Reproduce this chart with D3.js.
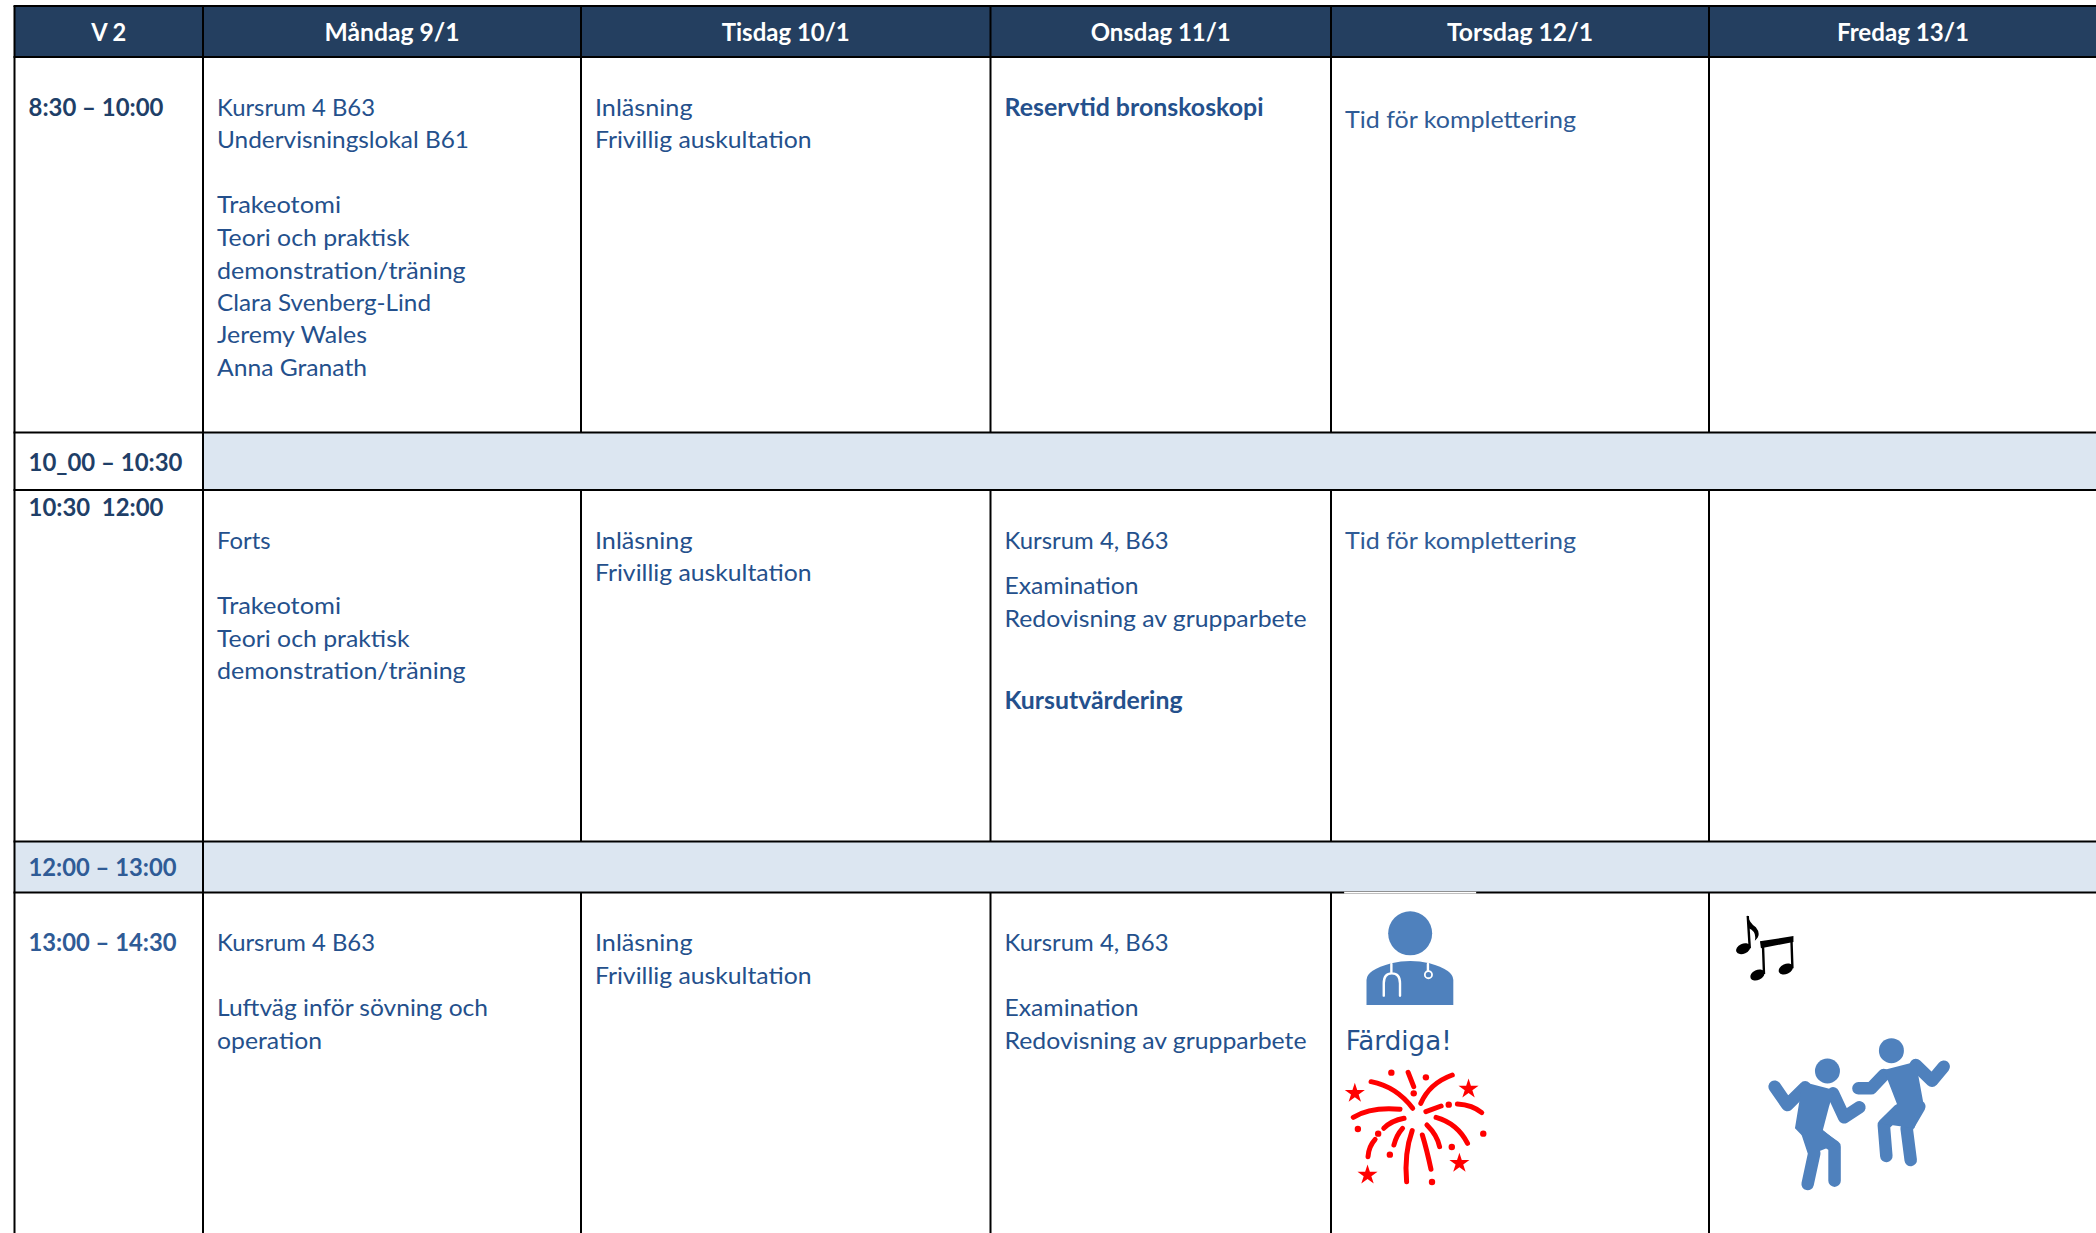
<!DOCTYPE html>
<html><head><meta charset="utf-8">
<script src="https://cdn.jsdelivr.net/npm/d3@7"></script>
<style>html,body{margin:0;padding:0;background:#fff;overflow:hidden}svg{display:block}text{font-family:Lato,Carlito,sans-serif}</style>
</head><body><svg id="c" width="2096" height="1233"></svg>
<script>
// ---- content ----
const headers = ["V 2","Måndag 9/1","Tisdag 10/1","Onsdag 11/1","Torsdag 12/1","Fredag 13/1"];
const timeLabels = ["8:30 – 10:00","10_00 – 10:30","10:30  12:00","12:00 – 13:00","13:00 – 14:30"];
const monMorning = ["Kursrum 4 B63","Undervisningslokal B61","Trakeotomi","Teori och praktisk","demonstration/träning","Clara Svenberg-Lind","Jeremy Wales","Anna Granath"];
const monMidday = ["Forts","Trakeotomi","Teori och praktisk","demonstration/träning"];
const monAfternoon = ["Kursrum 4 B63","Luftväg inför sövning och","operation"];
const tueLines = ["Inläsning","Frivillig auskultation"];
const wedMidday = ["Kursrum 4, B63","Examination","Redovisning av grupparbete"];
const wedAfternoon = ["Kursrum 4, B63","Examination","Redovisning av grupparbete"];

// ---- layout ----
const colX = [14.5,203,581,990.5,1331,1709,2096];
const rowY = [6,57,432.5,490,841.5,892.5,1240];
const ink="#24508c", inkDark="#1f3f68", inkBlue="#2f5b96";
// widths of the original (Calibri) strings, which the stand-in font is fitted to
const fit = new Map([
 ["V 2",35],["Måndag 9/1",135],["Tisdag 10/1",128],["Onsdag 11/1",140],["Torsdag 12/1",146],["Fredag 13/1",132],
 ["8:30 – 10:00",135],["10_00 – 10:30",154],["10:30  12:00",135],["12:00 – 13:00",148],["13:00 – 14:30",148],
 ["Kursrum 4 B63",158],["Undervisningslokal B61",252],["Trakeotomi",124],["Teori och praktisk",192.5],
 ["demonstration/träning",248.6],["Clara Svenberg-Lind",214],["Jeremy Wales",150],["Anna Granath",150],["Forts",53.5],
 ["Luftväg inför sövning och",271],["operation",105],["Inläsning",97.5],["Frivillig auskultation",216.5],
 ["Kursrum 4, B63",164],["Examination",134],["Redovisning av grupparbete",302],["Tid för komplettering",231],
 ["Kursutvärdering",178],["Reservtid bronskoskopi",259]
]);
const placed = [
 {c:1,y:[116,148,213,246,279,311,343,376],t:monMorning},
 {c:1,y:[549,614,647,679],t:monMidday},
 {c:1,y:[951,1016,1049],t:monAfternoon},
 {c:2,y:[116,148],t:tueLines},
 {c:2,y:[549,581],t:tueLines},
 {c:2,y:[951,984],t:tueLines},
 {c:3,y:[116],t:["Reservtid bronskoskopi"],b:1},
 {c:3,y:[549,594,626.5],t:wedMidday},
 {c:3,y:[709],t:["Kursutvärdering"],b:1},
 {c:3,y:[951,1016,1049],t:wedAfternoon},
 {c:4,y:[128],t:["Tid för komplettering"],f:inkBlue},
 {c:4,y:[549],t:["Tid för komplettering"],f:inkBlue},
];
const timeY = [116,471,516,876,951];
const timeFill = [inkDark,inkDark,inkDark,inkBlue,inkBlue];

const svg = d3.select("#c");
const table = svg.append("g");

table.append("rect").attr("x",colX[0]).attr("y",rowY[0]).attr("width",2096-colX[0]).attr("height",rowY[1]-rowY[0]).attr("fill","#243f60");
table.append("rect").attr("x",colX[1]).attr("y",rowY[2]).attr("width",2096-colX[1]).attr("height",rowY[3]-rowY[2]).attr("fill","#dce6f1");
table.append("rect").attr("x",colX[0]).attr("y",rowY[4]).attr("width",2096-colX[0]).attr("height",rowY[5]-rowY[4]).attr("fill","#dce6f1");

const hl = rowY.slice(0,-1);
table.selectAll("line.h").data(hl).join("line").attr("class","h")
  .attr("x1",colX[0]-1).attr("x2",2096).attr("y1",d=>d).attr("y2",d=>d).attr("stroke","#000").attr("stroke-width",2);
const segs = [];
colX.slice(0,-1).forEach((x,i)=>{
  if(i<2){ segs.push([x,rowY[0],rowY[6]]); }
  else { [[0,2],[3,4],[5,6]].forEach(([a,b])=>segs.push([x,rowY[a],rowY[b]])); }
});
table.selectAll("line.v").data(segs).join("line").attr("class","v")
  .attr("x1",d=>d[0]).attr("x2",d=>d[0]).attr("y1",d=>d[1]).attr("y2",d=>d[2]).attr("stroke","#000").attr("stroke-width",2);

const SZ=24;
function put(sel,bold){
  sel.attr("font-size",SZ).attr("font-weight",bold?700:400)
    .attr("textLength",d=>fit.get(d)).attr("lengthAdjust","spacingAndGlyphs");
}
const hdr = table.selectAll("text.hd").data(headers).join("text").attr("class","hd")
  .attr("y",41).attr("fill","#fff").attr("xml:space","preserve").text(d=>d);
put(hdr,true);
hdr.attr("x",(d,i)=>(colX[i]+colX[i+1])/2-fit.get(d)/2+(i==5?0.5:0));
const tl = table.selectAll("text.tm").data(timeLabels).join("text").attr("class","tm")
  .attr("x",28.5).attr("y",(d,i)=>timeY[i]).attr("fill",(d,i)=>timeFill[i]).attr("xml:space","preserve").text(d=>d);
put(tl,true);
placed.forEach(p=>{
  const s=table.append("g").selectAll("text").data(p.t).join("text")
    .attr("x",colX[p.c]+14).attr("y",(d,i)=>p.y[i]).attr("fill",p.f||ink).text(d=>d);
  put(s,!!p.b);
});

// ---- pictures (traced in crop space, mapped to the page by scales) ----
const X=d3.scaleLinear([0,1568],[1300,2096]), Y=d3.scaleLinear([0,1059],[880,1233]);
const sp=d=>d.replace(/(-?[\d.]+),(-?[\d.]+)/g,(m,a,b)=>X(+a)+","+Y(+b));
const art=svg.append("g");
art.append("rect").attr("x",X(87)).attr("y",rowY[5]-1).attr("width",X(347)-X(87)).attr("height",2).attr("fill","#fff");
art.append("line").attr("x1",X(87)).attr("x2",X(347)).attr("y1",rowY[5]-1).attr("y2",rowY[5]-1).attr("stroke","#777").attr("stroke-width",.6);
const ell=(g,cx,cy,rx,ry,f)=>g.append("ellipse").attr("cx",X(cx)).attr("cy",Y(cy)).attr("rx",rx).attr("ry",ry).attr("fill",f);
const blue="#4f81bd";
const doc=art.append("g");
ell(doc,217,160,22,22,blue);
doc.append("path").attr("fill",blue).attr("d",sp("M131,375 L131,300 Q131,270 180,250 Q217,236 255,250 Q302,270 302,300 L302,375 Z"));
doc.append("path").attr("fill","none").attr("stroke","#fff").attr("stroke-width",2.4).attr("stroke-linecap","round")
  .attr("d",sp("M180,252 L180,280 M165,347 L165,310 Q165,280 181,280 Q197,280 197,310 L197,347 M252,252 L252,272"));
doc.append("circle").attr("cx",X(253)).attr("cy",Y(284)).attr("r",3.6).attr("fill",blue).attr("stroke","#fff").attr("stroke-width",1.8);
art.append("text").attr("x",X(90)).attr("y",1050).attr("font-size",27).attr("fill","#24508c")
  .style("font-family","'DejaVu Sans'").attr("textLength",106).attr("lengthAdjust","spacingAndGlyphs").text("Färdiga!");
const fw=art.append("g").attr("fill","none").attr("stroke","#f00").attr("stroke-linecap","round");
const arcs=["M140,605 Q190,620 222,685","M300,585 Q255,610 238,670","M213,577 L224,620","M105,712 Q140,680 197,688",
 "M358,698 Q340,675 310,672","M248,695 L278,678","M165,745 Q180,722 205,715","M268,712 Q310,730 330,790",
 "M202,745 Q190,765 185,795","M250,735 Q270,765 275,800","M134,830 Q135,800 148,778","M221,752 Q205,820 210,905","M241,765 Q250,810 258,868"];
fw.selectAll("path").data(arcs).join("path").attr("d",d=>sp(d)).attr("stroke-width",5);
const dots=[[180,578],[248,592],[224,640],[293,674],[114,747],[154,761],[361,761],[177,824],[299,801],[260,906]];
art.selectAll("circle.fd").data(dots).join("circle").attr("class","fd").attr("cx",d=>X(d[0])).attr("cy",d=>Y(d[1])).attr("r",3.2).attr("fill","#f00");
const stars=[[108,640],[332,627],[314,850],[133,885]];
art.selectAll("path.st").data(stars).join("path").attr("class","st").attr("fill","#f00")
  .attr("d",d3.symbol(d3.symbolStar,125)).attr("transform",d=>`translate(${X(d[0])},${Y(d[1])})`);
const mus=art.append("g");
[[873,206],[901,285],[957,267]].forEach(p=>mus.append("ellipse").attr("fill","#000").attr("rx",7.5).attr("ry",5)
  .attr("transform",`translate(${X(p[0])},${Y(p[1])}) rotate(-25)`));
mus.append("path").attr("fill","none").attr("stroke","#000").attr("stroke-width",2.4)
  .attr("d",sp("M882,108 L886,205 M912,195 L914,282 M968,175 L970,265"));
mus.append("path").attr("fill","#000").attr("d",sp("M881,105 Q886,130 898,142 Q910,165 896,182 Q900,155 884,145 Z M906,184 L972,168 L972,186 L908,205 Z"));
const dn=art.append("g").attr("fill","none").attr("stroke",blue).attr("stroke-linecap","round").attr("stroke-linejoin","round");
ell(art,1039,573,12.5,12.5,blue); ell(art,1165,512,12.5,12.5,blue);
art.append("path").attr("fill",blue).attr("d",sp("M990,605 L1052,630 L1042,680 L1030,750 L1062,790 L1020,815 L975,745 Z M1150,570 L1213,545 L1228,670 L1210,745 L1140,730 L1178,680 Z"));
const limbs=["M935,620 L960,675 L995,622","M1050,640 L1072,712 L1102,682","M1000,760 L1013,820 L1000,912","M1025,770 L1053,800 L1053,902",
 "M1150,585 L1125,625 L1100,625","M1213,555 L1245,602 L1268,560","M1180,690 L1150,735 L1155,828","M1220,680 L1195,745 L1203,840"];
dn.selectAll("path").data(limbs).join("path").attr("d",d=>sp(d)).attr("stroke-width",12.5);
</script></body></html>
